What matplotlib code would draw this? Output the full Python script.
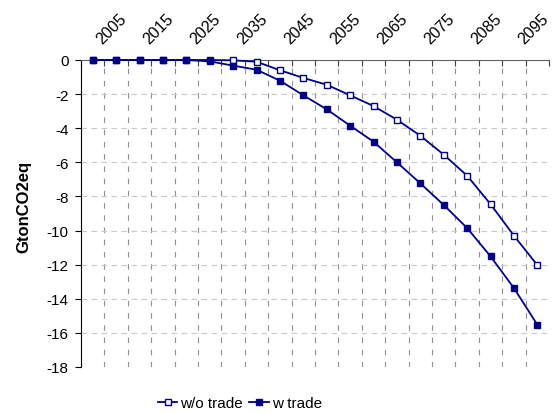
import matplotlib
matplotlib.use("Agg")
import matplotlib.pyplot as plt
import numpy as np

years = list(range(2005, 2101, 5))
tick_years = list(range(2005, 2096, 10))
wo_trade = [0, 0, 0, 0, 0, 0, -0.02, -0.1, -0.6, -1.05, -1.45, -2.07, -2.7, -3.5,
            -4.44, -5.55, -6.78, -8.45, -10.3, -12.02]
w_trade = [0, 0, 0, 0, 0, -0.08, -0.33, -0.57, -1.21, -2.07, -2.89, -3.85, -4.79, -6.0,
           -7.23, -8.5, -9.85, -11.51, -13.37, -15.52]

plt.rcParams['font.family'] = ['Liberation Sans', 'DejaVu Sans']
navy = '#000080'

fig = plt.figure(figsize=(5.53, 4.14), dpi=100)
ax = fig.add_axes([81/553, 1-368/414, (549-81)/553, (368-61)/414])

x = np.arange(len(years))
ax.plot(x, wo_trade, color=navy, lw=1.3, marker='s', ms=5, mfc='white', mec=navy,
        mew=1.0, label='w/o trade', clip_on=False, zorder=3)
ax.plot(x, w_trade, color=navy, lw=1.3, marker='s', ms=5, mfc=navy, mec=navy,
        label='w trade', clip_on=False, zorder=4)

ax.set_xlim(-0.5, len(years) - 0.5)
ax.set_ylim(-18, 0)

# x axis on top: category boundaries as ticks, year labels rotated
ax.xaxis.tick_top()
ax.set_xticks(np.arange(-0.5, len(years)))
ax.set_xticklabels([])
ax.tick_params(axis='x', which='major', direction='in', length=4, color='#404040',
               top=True, bottom=False)
for yr in tick_years:
    ax.annotate(str(yr), xy=(years.index(yr), 1), xycoords=('data', 'axes fraction'),
                xytext=(10, 16), textcoords='offset pixels', rotation=45,
                ha='left', va='baseline', rotation_mode='anchor', fontsize=11.5,
                annotation_clip=False)

ax.set_yticks(np.arange(-18, 1, 2))
ax.set_yticklabels([str(v) for v in range(-18, 1, 2)], fontsize=11)
ax.tick_params(axis='y', direction='out', length=4, pad=5)

for v in np.arange(0.5, len(years) - 0.5):
    ax.axvline(v, color='#909090', lw=0.8, ls=(0, (5, 6)), zorder=1)
for v in range(-18, 0, 2):
    ax.axhline(v, color='#c8c8c8', lw=0.8, ls=(0, (5, 4)), zorder=1)

ax.spines['right'].set_visible(False)
ax.spines['bottom'].set_visible(False)
ax.spines['top'].set_color('#606060')
ax.spines['left'].set_color('black')

ax.set_ylabel('GtonCO2eq', fontsize=12, fontweight='bold')
ax.yaxis.set_label_coords(31.5/553, 0.5, transform=fig.transFigure)

ax.legend(loc='center', bbox_to_anchor=(240/553, 1-404/414), bbox_transform=fig.transFigure,
          ncol=2, frameon=False, fontsize=11, handlelength=1.3, handletextpad=0.2,
          columnspacing=0.4, markerscale=0.8)

fig.savefig('out.png', dpi=100)
